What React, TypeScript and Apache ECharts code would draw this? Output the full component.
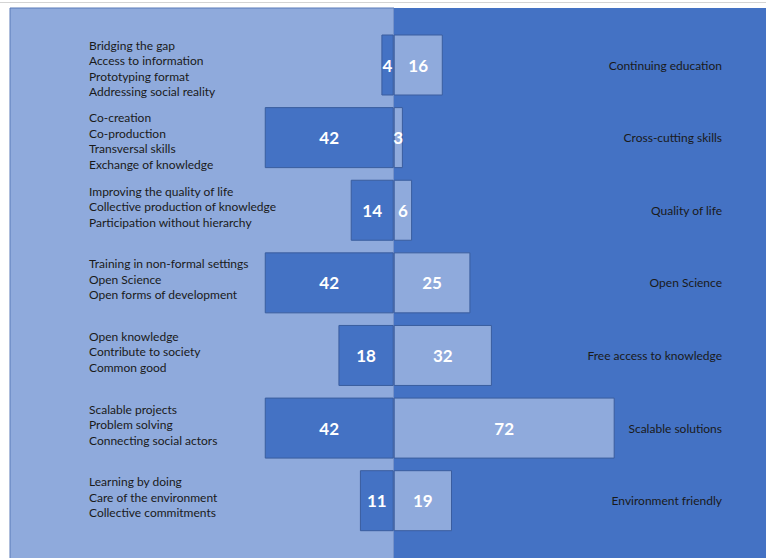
import React, { useEffect, useRef } from "react";
import * as echarts from "echarts";

const categories = [
  "Continuing education",
  "Cross-cutting skills",
  "Quality of life",
  "Open Science",
  "Free access to knowledge",
  "Scalable solutions",
  "Environment friendly",
];

const descriptions = [
  ["Bridging the gap", "Access to information", "Prototyping format", "Addressing social reality"],
  ["Co-creation", "Co-production", "Transversal skills", "Exchange of knowledge"],
  ["Improving the quality of life", "Collective production of knowledge", "Participation without hierarchy"],
  ["Training in non-formal settings", "Open Science", "Open forms of development"],
  ["Open knowledge", "Contribute to society", "Common good"],
  ["Scalable projects", "Problem solving", "Connecting social actors"],
  ["Learning by doing", "Care of the environment", "Collective commitments"],
];

const leftValues = [4, 42, 14, 42, 18, 42, 11];
const rightValues = [16, 3, 6, 25, 32, 72, 19];

const DARK = "#4472c4";
const LIGHT = "#8faadc";
const BORDER = "#3a5d9e";
const FONT = "Lato, 'Open Sans', sans-serif";

export default function App() {
  const ref = useRef<HTMLDivElement>(null);
  useEffect(() => {
    if (!ref.current) return;
    const chart = echarts.init(ref.current, undefined, { renderer: "svg" });
    chart.setOption({
      animation: false,
      backgroundColor: "#ffffff",
      graphic: [
        { type: "line", shape: { x1: 0, y1: 2.5, x2: 766, y2: 2.5 }, style: { stroke: "#d4d4d4", lineWidth: 1 }, z: -10 },
        { type: "rect", shape: { x: 10, y: 8, width: 384, height: 560 }, style: { fill: LIGHT, stroke: "#5b7bb8", lineWidth: 1 }, z: -10 },
        { type: "rect", shape: { x: 394, y: 8, width: 380, height: 560 }, style: { fill: DARK }, z: -10 },
      ],
      grid: { left: 10, right: 0, top: 28.7, bottom: 21 },
      xAxis: { type: "value", min: -125, max: 121.3, show: false },
      yAxis: [
        {
          type: "category",
          data: categories,
          inverse: true,
          position: "left",
          axisLine: { show: false },
          axisTick: { show: false },
          axisLabel: {
            align: "left",
            margin: -79,
            fontFamily: FONT,
            fontSize: 12,
            lineHeight: 15.5,
            color: "#1a1a1a",
            formatter: (_: string, i: number) => {
              const lines = descriptions[i];
              const body = lines.map((l) => `{t|${l}}`).join("\n");
              return lines.length >= 4 ? `{sp|}\n${body}` : `${body}\n{sp|}`;
            },
            rich: {
              t: { fontFamily: FONT, fontSize: 12, lineHeight: 15.5, color: "#1a1a1a" },
              sp: { fontSize: 1, lineHeight: 7, height: 7 },
            },
          },
        },
        {
          type: "category",
          data: categories,
          inverse: true,
          position: "right",
          axisLine: { show: false },
          axisTick: { show: false },
          axisLabel: {
            align: "right",
            margin: -44,
            fontFamily: FONT,
            fontSize: 12,
            color: "#1a1a1a",
          },
        },
      ],
      series: [
        {
          type: "bar",
          stack: "t",
          barWidth: 61,
          data: leftValues.map((v) => -v),
          itemStyle: { color: DARK, borderColor: BORDER, borderWidth: 1 },
          label: {
            show: true,
            position: "inside",
            color: "#ffffff",
            fontFamily: FONT,
            fontSize: 17,
            fontWeight: "bold",
            formatter: (p: any) => String(Math.abs(p.value)),
          },
        },
        {
          type: "bar",
          stack: "t",
          barWidth: 61,
          data: rightValues,
          itemStyle: { color: LIGHT, borderColor: BORDER, borderWidth: 1 },
          label: {
            show: true,
            position: "inside",
            color: "#ffffff",
            fontFamily: FONT,
            fontSize: 17,
            fontWeight: "bold",
          },
        },
      ],
    });
    return () => chart.dispose();
  }, []);
  return (
    <div
      ref={ref}
      style={{ position: "fixed", left: 0, top: 0, width: 766, height: 558 }}
    />
  );
}
